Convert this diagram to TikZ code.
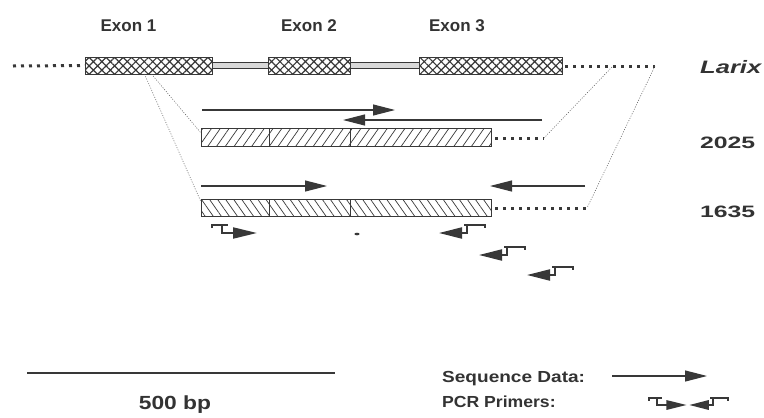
\documentclass[tikz,border=0pt]{standalone}
\usepackage{graphicx}
\usepackage{fontspec}
\setmainfont{Liberation Sans}
\usetikzlibrary{arrows.meta,patterns.meta,calc}
\definecolor{ink}{HTML}{383838}
\definecolor{txt}{HTML}{333333}
\newcommand\prmscale{1}
\begin{document}
\begin{tikzpicture}[x=1pt,y=-1pt,
  exon/.style={draw=ink, line width=1pt, inner sep=0pt, outer sep=0pt,
    minimum height=17pt, preaction={fill=white},
    pattern={Hatch[angle=45,distance=6pt,line width=1.2pt]}, pattern color=ink},
  intron/.style={draw=ink, line width=0.8pt, fill=gray!30},
  rowA/.style={draw=ink, line width=0.9pt, inner sep=0pt, outer sep=0pt,
    preaction={fill=white},
    pattern={Lines[angle=55,distance=7.2pt,line width=0.7pt]}, pattern color=ink},
  rowB/.style={draw=ink, line width=0.9pt, inner sep=0pt, outer sep=0pt,
    preaction={fill=white},
    pattern={Lines[angle=125,distance=6.6pt,line width=0.7pt]}, pattern color=ink},
  divider/.style={draw=ink, line width=0.8pt},
  beads/.style={draw=ink, line width=3pt, dash pattern=on 3pt off 5pt},
  thindot/.style={draw=ink!85, line width=0.5pt, dash pattern=on 1pt off 1.5pt},
  seqarrow/.style={draw=ink, line width=1.1pt, -{Triangle[length=22pt,width=11pt]}},
  primerline/.style={draw=ink, line width=2pt},
  lab/.style={text=txt, inner sep=0pt, font=\bfseries},
  fwdprimer/.pic={
    \draw[primerline] (-10,-5) -- (-10,-8) -- (6,-8);
    \draw[primerline,-{Triangle[length=24pt,width=11pt,scale=\prmscale]}] (0,-8) -- (0,0) -- (35,0);
  },
  revprimer/.pic={
    \draw[primerline] (-3,-8) -- (18,-8) -- (18,-5);
    \draw[primerline,-{Triangle[length=23pt,width=11pt,scale=\prmscale]}] (0,-8) -- (0,0) -- (-28,0);
  }
]
\useasboundingbox[fill=white] (0,0) rectangle (764,418);

% --- Larix gene: exons and introns ---
\node[exon, minimum width=127pt, anchor=west] (e1) at (85,65.5) {};
\node[exon, minimum width=82pt, anchor=west] (e2) at (268,65.5) {};
\node[exon, minimum width=143pt, anchor=west] (e3) at (419,65.5) {};
\draw[intron] ($(e1.east)+(0,-3)$) rectangle ($(e2.west)+(0,3)$);
\draw[intron] ($(e2.east)+(0,-3)$) rectangle ($(e3.west)+(0,3)$);

\coordinate (L0) at (13,66);
\coordinate (R0) at (655,66);
\draw[beads] (L0) -- (e1.west);
\draw[beads] ($(e3.east)+(3,0.5)$) -- (R0);

\node[lab, anchor=base] (x1) at (128.5,31) {\fontsize{17}{20}\selectfont Exon 1};
\node[lab, anchor=base] (x2) at (309,31) {\fontsize{17}{20}\selectfont Exon 2};
\node[lab, anchor=base] (x3) at (457,31) {\fontsize{17}{20}\selectfont Exon 3};
\node[lab, anchor=base west] (lx) at (700,73) {\scalebox{1.42}[1]{\fontsize{18}{20}\selectfont\itshape Larix}};

% --- clone 2025 ---
\node[rowA, minimum width=290pt, minimum height=18pt, anchor=north west] (r1) at (201,128) {};
\draw[divider] ($(r1.north west)+(68,0)$) -- ($(r1.south west)+(68,0)$);
\draw[divider] ($(r1.north west)+(149,0)$) -- ($(r1.south west)+(149,0)$);
\coordinate (R1) at (544,138);
\draw[beads] ($(r1.east)+(4,1)$) -- (R1);
\node[lab, anchor=base west] (n2025) at (700,148) {\scalebox{1.5}[1]{\fontsize{16.5}{18}\selectfont 2025}};

\coordinate (s1a) at (202,110); \coordinate (s1b) at (395,110);
\coordinate (s2a) at (542,120); \coordinate (s2b) at (343,120);
\draw[seqarrow] (s1a) -- (s1b);
\draw[seqarrow] (s2a) -- (s2b);

% --- clone 1635 ---
\node[rowB, minimum width=290pt, minimum height=17pt, anchor=north west] (r2) at (201,199) {};
\draw[divider] ($(r2.north west)+(68,0)$) -- ($(r2.south west)+(68,0)$);
\draw[divider] ($(r2.north west)+(149,0)$) -- ($(r2.south west)+(149,0)$);
\coordinate (R2) at (587,208);
\draw[beads] ($(r2.east)+(4,0.5)$) -- (R2);
\node[lab, anchor=base west] (n1635) at (700,217) {\scalebox{1.5}[1]{\fontsize{16.5}{18}\selectfont 1635}};

\coordinate (s3a) at (201,186); \coordinate (s3b) at (327,186);
\coordinate (s4a) at (585,186); \coordinate (s4b) at (490,186);
\draw[seqarrow] (s3a) -- (s3b);
\draw[seqarrow] (s4a) -- (s4b);

% --- thin dotted correspondence lines ---
\coordinate (RT1) at (612,67);
\draw[thindot] ($(e1.south)+(-4,0)$) -- ($(r2.north west)+(0,3)$);
\draw[thindot] ($(e1.south)+(3,0)$) -- ($(r1.west)+(0,-4)$);
\draw[thindot] (RT1) -- (R1);
\draw[thindot] (R0) -- (R2);

% --- PCR primers ---
\pic at (222,233) {fwdprimer};
\pic at (467,233) {revprimer};
\pic at (507,255) {revprimer};
\pic at (555,275) {revprimer};
\fill[ink] (357,234) ellipse (2.6pt and 1.3pt);

% --- scale bar ---
\coordinate (sb0) at (27,373); \coordinate (sb1) at (335,373);
\draw[ink, line width=2.4pt] (sb0) -- (sb1);
\node[lab, anchor=base] (sbl) at (175,409) {\scalebox{1.2}[1]{\fontsize{19}{21}\selectfont 500 bp}};

% --- legend ---
\node[lab, anchor=base west] (lg1) at (442,382) {\scalebox{1.19}[1]{\fontsize{16}{18}\selectfont Sequence Data:}};
\node[lab, anchor=base west] (lg2) at (442,407) {\scalebox{1.1}[1]{\fontsize{16}{18}\selectfont PCR Primers:}};
\coordinate (la0) at (612,376); \coordinate (la1) at (707,376);
\draw[seqarrow] (la0) -- (la1);
\begin{scope}
\renewcommand\prmscale{0.85}
\pic[scale=0.85] at (657,405) {fwdprimer};
\pic[scale=0.85] at (713,405) {revprimer};
\end{scope}
\end{tikzpicture}
\end{document}
